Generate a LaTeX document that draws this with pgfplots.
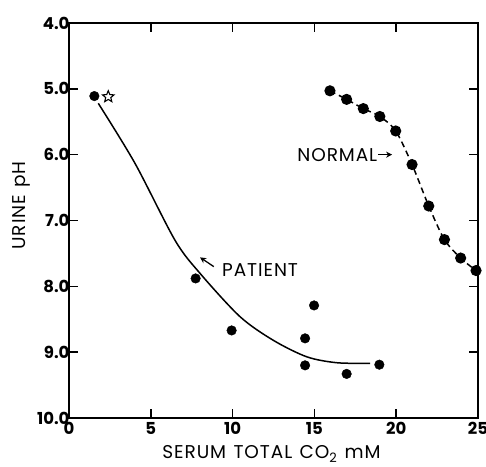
\documentclass[border=0pt]{standalone}
\usepackage{pgfplots}
\pgfplotsset{compat=1.18}
\usepackage{fontspec}
\setmainfont{Poppins}
\usetikzlibrary{arrows.meta}

% open five-point star
\pgfdeclareplotmark{ostar}{%
  \pgfpathmoveto{\pgfpointpolar{90}{\pgfplotmarksize}}%
  \pgfpathlineto{\pgfpointpolar{126}{0.45\pgfplotmarksize}}%
  \pgfpathlineto{\pgfpointpolar{162}{\pgfplotmarksize}}%
  \pgfpathlineto{\pgfpointpolar{198}{0.45\pgfplotmarksize}}%
  \pgfpathlineto{\pgfpointpolar{234}{\pgfplotmarksize}}%
  \pgfpathlineto{\pgfpointpolar{270}{0.45\pgfplotmarksize}}%
  \pgfpathlineto{\pgfpointpolar{306}{\pgfplotmarksize}}%
  \pgfpathlineto{\pgfpointpolar{342}{0.45\pgfplotmarksize}}%
  \pgfpathlineto{\pgfpointpolar{18}{\pgfplotmarksize}}%
  \pgfpathlineto{\pgfpointpolar{54}{0.45\pgfplotmarksize}}%
  \pgfpathclose\pgfusepathqstroke}

\newcommand\lab{\fontsize{18.5}{20}\selectfont\addfontfeature{LetterSpace=5}}

\begin{document}
\begin{tikzpicture}
\begin{axis}[
  scale only axis, width=409pt, height=395pt,
  xmin=0, xmax=25, ymin=4, ymax=10, y dir=reverse,
  xtick={0,5,...,25}, ytick={4,5,...,10},
  tick align=inside, major tick length=9pt,
  axis line style={line width=1.6pt},
  major tick style={draw=black, line width=1.5pt},
  /pgf/number format/assume math mode=true,
  yticklabel style={/pgf/number format/fixed, /pgf/number format/fixed zerofill,
    /pgf/number format/precision=1, xshift=4pt},
  tick label style={font=\fontsize{16.5}{18}\selectfont\bfseries},
  xticklabel style={yshift=-1pt},
  xlabel={SERUM\hspace{0.4em}TOTAL\hspace{0.4em}CO\textsubscript{2}\hspace{0.4em}mM},
  ylabel={URINE\hspace{0.4em}pH},
  label style={font=\lab},
  xlabel style={at={(axis cs:12.38,10.55)}, anchor=center},
  ylabel style={at={(axis cs:-2.93,6.77)}, anchor=center},
  clip=false,
]
% patient data
\addplot[only marks, mark=*, mark size=4.8pt, black] coordinates {
  (1.55,5.11) (7.74,7.88) (9.94,8.67) (14.98,8.29) (14.43,8.79)
  (14.43,9.20) (16.97,9.33) (18.97,9.19)};
\addplot[only marks, mark=ostar, mark size=6pt, black, line width=1.1pt] coordinates {(2.4,5.12)};
% patient fitted curve
\addplot[smooth, tension=0.5, black, line width=1.5pt] coordinates {
  (1.79,5.22) (4.03,6.13) (6.48,7.30) (8.0,7.80) (10.45,8.46)
  (12.49,8.82) (14.53,9.07) (16.36,9.16) (18.4,9.17)};
% normal
\addplot[smooth, tension=0.5, black, line width=1.5pt, dash pattern=on 6pt off 4pt, mark=*, mark size=4.8pt,
  mark options={solid}] coordinates {
  (15.95,5.03) (16.97,5.16) (17.99,5.30) (19.0,5.42) (19.97,5.64)
  (20.97,6.15) (21.99,6.78) (22.95,7.29) (23.94,7.57) (24.88,7.76)};
\node[anchor=west, font=\lab, inner sep=0pt] at (axis cs:13.95,6.0) {NORMAL};
\draw[-{Stealth[length=6pt,width=6pt]}, line width=1.3pt] (axis cs:18.9,6.0) -- (axis cs:19.75,6.0);
\node[anchor=west, font=\lab, inner sep=0pt] at (axis cs:9.35,7.75) {PATIENT};
\draw[-{Stealth[length=6pt,width=6pt]}, line width=1.3pt] (axis cs:8.85,7.70) -- (axis cs:8.01,7.56);
\end{axis}
\pgfresetboundingbox
\path[use as bounding box] (current axis.south west) ++(-69pt,-48pt) rectangle ++(486pt,466pt);
\end{tikzpicture}
\end{document}
